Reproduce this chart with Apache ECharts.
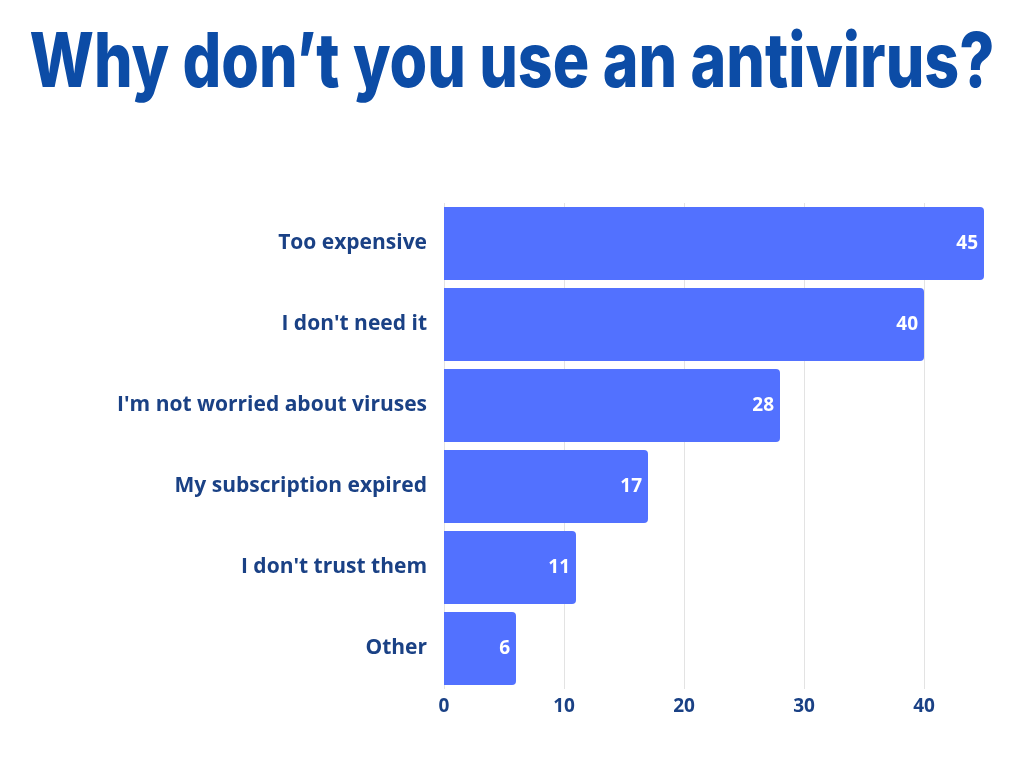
<!DOCTYPE html>
<html>
<head>
<meta charset="utf-8">
<style>
  html, body { margin: 0; padding: 0; background: #fff; }
  #chart { width: 1024px; height: 768px; }
</style>
<script src="https://cdn.jsdelivr.net/npm/echarts@6/dist/echarts.min.js"></script>
</head>
<body>
<div id="chart"></div>
<script>
// 数据（从上到下）
var categories = ['Too expensive', "I don't need it", "I'm not worried about viruses",
  'My subscription expired', "I don't trust them", 'Other'];
var values = [45, 40, 28, 17, 11, 6];
var titleText = 'Why don\u2019t you use an antivirus?';

// 标题字体：窄体效果靠横向缩放
var titleFont = '800 76px Inter';
var ctx = document.createElement('canvas').getContext('2d');
ctx.font = titleFont;
var titleScale = 965 / ctx.measureText(titleText).width;

var chart = echarts.init(document.getElementById('chart'));

var option = {
  backgroundColor: '#ffffff',
  graphic: [{
    type: 'text',
    x: 512,
    y: 64,
    scaleX: titleScale,
    style: {
      text: titleText,
      font: titleFont,
      fill: '#0c4ca6',
      align: 'center',
      verticalAlign: 'middle'
    }
  }],
  grid: {
    left: 444,
    right: 40,
    top: 203,
    bottom: 79
  },
  xAxis: {
    type: 'value',
    min: 0,
    max: 45,
    interval: 10,
    axisLine: { show: false },
    axisTick: { show: false },
    splitLine: {
      showMaxLine: false,
      lineStyle: { color: '#e3e3e3', width: 1 }
    },
    axisLabel: {
      showMaxLabel: false,
      margin: 8,
      fontFamily: 'Open Sans',
      fontWeight: 'bold',
      fontSize: 19,
      color: '#1a4185'
    }
  },
  yAxis: {
    type: 'category',
    inverse: true,
    data: categories,
    axisLine: { show: false },
    axisTick: { show: false },
    axisLabel: {
      margin: 17,
      fontFamily: 'Open Sans',
      fontWeight: 'bold',
      fontSize: 21,
      color: '#1a4185'
    }
  },
  series: [{
    type: 'bar',
    data: values,
    barCategoryGap: '10%',
    itemStyle: {
      color: '#5271ff',
      borderRadius: [0, 4, 4, 0]
    },
    label: {
      show: true,
      position: 'insideRight',
      distance: 6,
      fontFamily: 'Open Sans',
      fontWeight: 'bold',
      fontSize: 19,
      color: '#ffffff'
    }
  }]
};

chart.setOption(option);
</script>
</body>
</html>
